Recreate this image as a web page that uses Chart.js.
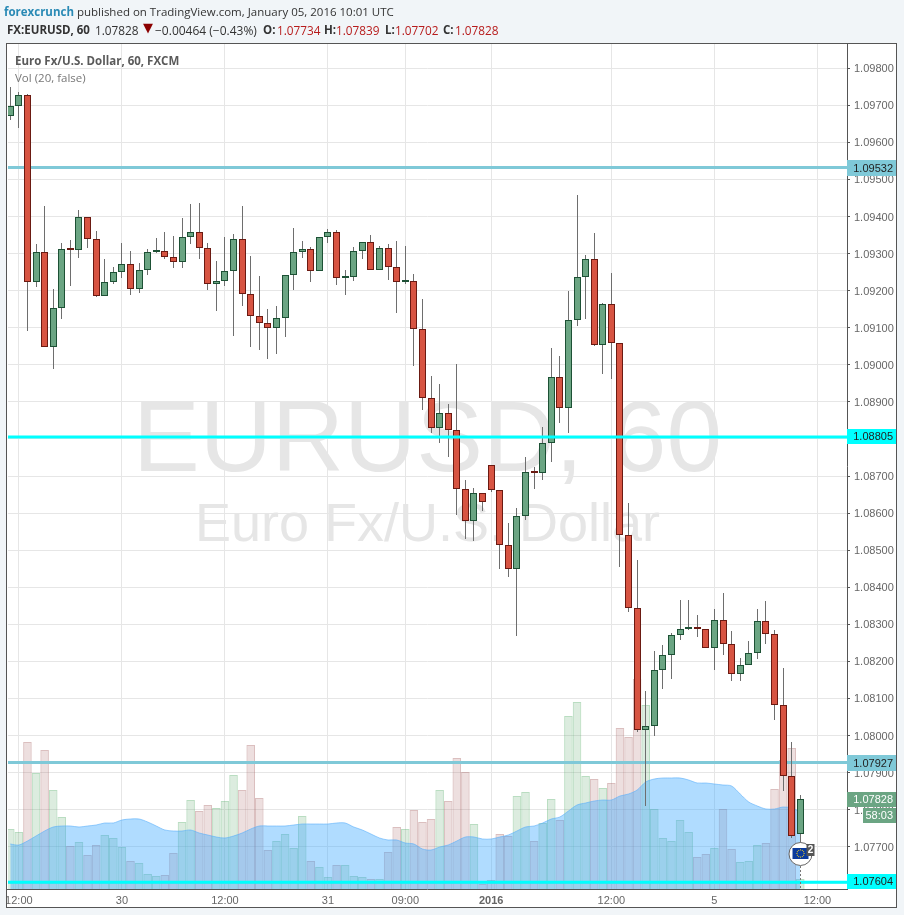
<!DOCTYPE html>
<html>
<head>
<meta charset="utf-8">
<title>EURUSD, 60</title>
<script src="https://cdn.jsdelivr.net/npm/chart.js@4"></script>
<style>
    html, body { margin: 0; padding: 0; background: #f1f5f8; }
    body { position: relative; width: 904px; height: 915px; overflow: hidden; }
    canvas { position: absolute; left: 0; top: 0; }
    .txt { position: absolute; white-space: nowrap; font-family: "Open Sans", sans-serif; font-size: 11.5px; color: #333; }
    .row2 { top: 22px; }
    .row2.num { font-size: 11.8px; }
    .row2.b { font-weight: bold; }
    .author { color: #2a8ab5; font-weight: bold; }
    .val { color: #b71c1c; }
</style>
</head>
<body>
<canvas id="chart" width="904" height="915"></canvas>
<div class="txt" style="left:4px;top:4px"><span class="author">forexcrunch</span> published on TradingView.com, January 05, 2016 10:01 UTC</div>
<div class="txt row2 b" style="left:7px">FX:EURUSD, 60</div>
<div class="txt row2 num" style="left:95px">1.07828</div>
<div class="txt" style="left:143px;top:20px;font-size:13px;color:#8b0000;font-family:'DejaVu Sans'">▼</div>
<div class="txt row2 num" style="left:155px;font-size:12px">−0.00464 (−0.43%)</div>
<div class="txt row2 b" style="left:263px">O:</div>
<div class="txt row2 num val" style="left:277px">1.07734</div>
<div class="txt row2 b" style="left:324px">H:</div>
<div class="txt row2 num val" style="left:336px">1.07839</div>
<div class="txt row2 b" style="left:385px">L:</div>
<div class="txt row2 num val" style="left:395px">1.07702</div>
<div class="txt row2 b" style="left:443px">C:</div>
<div class="txt row2 num val" style="left:455px">1.07828</div>
<div class="txt" style="left:15px;top:53px;font-weight:bold;color:#5a5a5a">Euro Fx/U.S. Dollar, 60, FXCM</div>
<div class="txt" style="left:15px;top:70px;color:#777">Vol (20, false)</div>
<script>
// Hourly candles
const opens = [1.09670,1.09697,1.09727,1.09222,1.09303,1.09049,1.09154,1.09311,1.09310,1.09400,
    1.09338,1.09186,1.09222,1.09251,1.09273,1.09205,1.09257,1.09305,1.09308,1.09292,
    1.09276,1.09346,1.09357,1.09314,1.09219,1.09227,1.09254,1.09338,1.09192,1.09132,
    1.09114,1.09100,1.09127,1.09241,1.09303,1.09311,1.09254,1.09346,1.09359,1.09235,
    1.09236,1.09308,1.09330,1.09257,1.09316,1.09265,1.09222,1.09227,1.09097,1.08911,
    1.08830,1.08870,1.08824,1.08665,1.08578,1.08654,1.08730,1.08662,1.08514,1.08449,
    1.08592,1.08711,1.08708,1.08789,1.08968,1.08883,1.09122,1.09238,1.09286,1.09053,
    1.09165,1.09059,1.08541,1.08345,1.08016,1.08027,1.08176,1.08216,1.08270,1.08287,
    1.08288,1.08286,1.08235,1.08311,1.08246,1.08165,1.08189,1.08222,1.08308,1.08273,
    1.08081,1.07892,1.07734];
const highs = [1.09750,1.09736,1.09731,1.09325,1.09428,1.09205,1.09328,1.09336,1.09417,1.09400,
    1.09360,1.09285,1.09263,1.09328,1.09306,1.09274,1.09312,1.09341,1.09358,1.09347,
    1.09395,1.09433,1.09436,1.09328,1.09279,1.09344,1.09352,1.09428,1.09293,1.09239,
    1.09150,1.09158,1.09241,1.09368,1.09333,1.09317,1.09346,1.09366,1.09363,1.09255,
    1.09317,1.09330,1.09350,1.09320,1.09325,1.09333,1.09320,1.09244,1.09177,1.08971,
    1.08947,1.08893,1.09001,1.08689,1.08668,1.08654,1.08730,1.08662,1.08574,1.08614,
    1.08752,1.08725,1.08831,1.09044,1.09023,1.09198,1.09458,1.09297,1.09355,1.09168,
    1.09247,1.09059,1.08628,1.08474,1.08120,1.08228,1.08244,1.08277,1.08366,1.08366,
    1.08325,1.08286,1.08341,1.08385,1.08282,1.08208,1.08254,1.08341,1.08363,1.08284,
    1.08181,1.07982,1.07839];
const lows = [1.09659,1.09640,1.09091,1.09210,1.09049,1.08988,1.09123,1.09213,1.09288,1.09315,
    1.09183,1.09186,1.09218,1.09234,1.09188,1.09194,1.09241,1.09301,1.09285,1.09260,
    1.09260,1.09325,1.09285,1.09201,1.09145,1.09213,1.09077,1.09158,1.09048,1.09040,
    1.09015,1.09029,1.09075,1.09201,1.09287,1.09223,1.09254,1.09329,1.09214,1.09187,
    1.09226,1.09285,1.09257,1.09257,1.09228,1.09141,1.09219,1.08998,1.08879,1.08817,
    1.08790,1.08750,1.08596,1.08531,1.08525,1.08606,1.08658,1.08450,1.08428,1.08268,
    1.08582,1.08666,1.08690,1.08739,1.08842,1.08815,1.09105,1.09123,1.09050,1.08975,
    1.08963,1.08455,1.08332,1.08010,1.07811,1.07998,1.08126,1.08153,1.08258,1.08284,
    1.08267,1.08235,1.08177,1.08218,1.08148,1.08148,1.08189,1.08207,1.08248,1.08042,
    1.07850,1.07724,1.07702];
const closes = [1.09697,1.09727,1.09222,1.09303,1.09049,1.09154,1.09311,1.09310,1.09400,1.09338,
    1.09186,1.09222,1.09251,1.09273,1.09205,1.09257,1.09305,1.09306,1.09292,1.09276,
    1.09346,1.09357,1.09314,1.09219,1.09227,1.09254,1.09338,1.09192,1.09132,1.09114,
    1.09100,1.09127,1.09241,1.09303,1.09311,1.09254,1.09346,1.09359,1.09235,1.09236,
    1.09308,1.09330,1.09257,1.09316,1.09265,1.09222,1.09227,1.09097,1.08911,1.08830,
    1.08870,1.08824,1.08665,1.08578,1.08654,1.08630,1.08662,1.08514,1.08449,1.08592,
    1.08711,1.08709,1.08789,1.08968,1.08883,1.09122,1.09238,1.09286,1.09053,1.09165,
    1.09059,1.08541,1.08345,1.08016,1.08027,1.08176,1.08216,1.08270,1.08286,1.08288,
    1.08287,1.08235,1.08311,1.08246,1.08165,1.08189,1.08222,1.08308,1.08273,1.08081,
    1.07892,1.07730,1.07828];
const volumes = [60,57,147,116,139,99,72,43,47,34,44,54,51,42,28,26,15,13,14,36,
    67,89,78,84,81,88,114,99,144,91,39,48,55,41,73,28,22,12,24,24,
    13,12,10,10,37,62,60,79,67,70,99,88,131,117,65,5,9,55,53,93,
    97,48,66,90,69,173,187,113,110,101,106,161,152,210,184,80,51,48,69,57,
    32,35,41,80,40,27,28,44,46,100,129,141,10];
const volumeMa = [45,44,48,53,58,62,63,63,62,63,64,66,66,69,70,70,67,63,59,58,
    58,59,56,54,52,51,53,56,60,63,63,63,63,64,65,65,65,65,66,66,
    62,59,55,51,49,49,46,45,40,39,42,44,48,52,52,50,50,52,54,58,
    62,63,66,70,72,78,84,86,88,89,89,93,95,99,107,110,111,111,111,109,
    106,106,105,104,103,95,87,83,80,80,82,81,77];

const xTickIndex = [1, 13, 25, 37, 46, 56, 70, 82, 94];
const xTickText = ['12:00', '30', '12:00', '31', '09:00', '2016', '12:00', '5', '12:00'];

const tealLevels = [1.09532, 1.07927];
const cyanLevels = [1.08805, 1.07604];
const lastPrice = 1.07828;
const countdown = '58:03';

const RED = '#d75442', RED_EDGE = '#6b1a12';
const GREEN = '#6ba583', GREEN_EDGE = '#1d5135';
const TEAL = '#7fc9d8', CYAN = '#00ffff';

const xMin = -0.27, xMax = 97.44;

const indexes = opens.map((_, i) => i);
const isUp = indexes.map(i => closes[i] >= opens[i]);

function levelDataset(value, color, order) {
    return {
        type: 'line',
        data: [{ x: xMin, y: value }, { x: xMax, y: value }],
        borderColor: color,
        borderWidth: 3,
        pointRadius: 0,
        order: order
    };
}

// Snaps the candles to whole pixels, the original chart is crisp
const snapCandles = {
    id: 'snapCandles',
    beforeDatasetsDraw(chart) {
        chart.data.datasets.forEach((ds, n) => {
            if (!ds.snap) return;
            chart.getDatasetMeta(n).data.forEach(el => {
                el.x = Math.floor(el.x) + 0.5;
                el.y = Math.round(el.y);
                el.base = Math.round(el.base);
            });
        });
    }
};

// Page background, white panel and the watermark behind the marks
const background = {
    id: 'background',
    beforeDraw(chart) {
        const { ctx } = chart;
        ctx.save();
        ctx.fillStyle = '#f1f5f8';
        ctx.fillRect(0, 0, chart.width, chart.height);
        ctx.fillStyle = '#ffffff';
        ctx.fillRect(6, 43, 891, 865);
        ctx.restore();
    },
    beforeDatasetsDraw(chart) {
        const { ctx, chartArea } = chart;
        const cx = (chartArea.left + chartArea.right) / 2;
        ctx.save();
        ctx.fillStyle = '#e6e6e6';
        ctx.textAlign = 'center';
        ctx.textBaseline = 'alphabetic';
        ctx.font = '100px "Liberation Sans"';
        ctx.fillText('EURUSD, 60', cx, 471);
        ctx.font = '54px "Liberation Sans"';
        ctx.fillText('Euro Fx/U.S. Dollar', cx, 541);
        ctx.restore();
    }
};

function priceTag(ctx, top, left, right, height, fill, textColor, text) {
    ctx.fillStyle = fill;
    ctx.fillRect(left, top, right - left, height);
    ctx.fillStyle = textColor;
    ctx.fillText(text, right - 4, top + height / 2 + 0.5);
}

// Price tags on the axis, the event marker and the outer frame
const overlay = {
    id: 'overlay',
    afterDraw(chart) {
        const { ctx, chartArea, scales } = chart;
        const yAt = v => scales.y.getPixelForValue(v);
        const right = chartArea.right;
        ctx.save();
        ctx.font = '11px "Liberation Sans"';
        ctx.textAlign = 'right';
        ctx.textBaseline = 'middle';
        tealLevels.forEach(v => priceTag(ctx, Math.round(yAt(v)) - 8, right, 897, 16, TEAL, '#222', v.toFixed(5)));
        cyanLevels.forEach(v => priceTag(ctx, Math.round(yAt(v)) - 8, right, 897, 15, CYAN, '#222', v.toFixed(5)));
        const lastY = Math.round(yAt(lastPrice));
        priceTag(ctx, lastY - 7, right, 897, 15, GREEN, '#fff', lastPrice.toFixed(5));
        priceTag(ctx, lastY + 9, 863, 897, 15, GREEN, '#fff', countdown);

        // event marker on the last candle
        const mx = Math.floor(scales.x.getPixelForValue(opens.length - 1)) + 0.5;
        const my = 854;
        ctx.strokeStyle = '#777';
        ctx.setLineDash([2, 2]);
        ctx.beginPath();
        ctx.moveTo(mx, my + 12);
        ctx.lineTo(mx, chartArea.bottom);
        ctx.stroke();
        ctx.setLineDash([]);
        ctx.fillStyle = '#fff';
        ctx.strokeStyle = '#666';
        ctx.beginPath();
        ctx.arc(mx, my, 11.5, 0, Math.PI * 2);
        ctx.fill();
        ctx.stroke();
        ctx.fillStyle = '#0b3a9c';
        ctx.fillRect(mx - 8, my - 6, 16, 11);
        ctx.fillStyle = '#f4d020';
        for (let a = 0; a < 12; a++) {
            const t = a * Math.PI / 6;
            ctx.fillRect(mx + Math.cos(t) * 3.6 - 0.5, my - 0.5 + Math.sin(t) * 3.6 - 0.5, 1, 1);
        }
        ctx.fillStyle = '#555';
        ctx.fillRect(mx + 6, my - 10, 8, 12);
        ctx.fillStyle = '#fff';
        ctx.textAlign = 'center';
        ctx.font = 'bold 10px "Liberation Sans"';
        ctx.fillText('2', mx + 10, my - 4);

        // the first time label is cut by the frame
        ctx.fillStyle = '#f1f5f8';
        ctx.fillRect(0, 43, 6, 872);
        ctx.strokeStyle = '#555';
        ctx.lineWidth = 1;
        ctx.strokeRect(6.5, 43.5, 890, 864);
        ctx.restore();
    }
};

const datasets = [
    {
        label: 'Vol',
        data: indexes.map(i => ({ x: i, y: volumes[i] })),
        yAxisID: 'vol',
        backgroundColor: isUp.map(u => u ? 'rgba(80,160,95,0.2)' : 'rgba(165,95,95,0.2)'),
        borderColor: isUp.map(u => u ? 'rgba(80,170,100,0.4)' : 'rgba(165,95,95,0.4)'),
        borderWidth: 1,
        barThickness: 8.58,
        inflateAmount: 0,
        grouped: false,
        order: 7
    },
    {
        type: 'line',
        label: 'Vol MA',
        data: indexes.map(i => ({ x: i, y: volumeMa[i] })),
        yAxisID: 'vol',
        fill: 'origin',
        backgroundColor: 'rgba(57,167,255,0.4)',
        borderColor: 'rgba(90,175,250,0.6)',
        borderWidth: 1,
        pointRadius: 0,
        tension: 0.3,
        order: 6
    },
    levelDataset(tealLevels[0], TEAL, 5),
    levelDataset(tealLevels[1], TEAL, 4),
    {
        label: 'Wicks',
        data: indexes.map(i => ({ x: i, y: [lows[i], highs[i]] })),
        backgroundColor: '#6e6e6e',
        borderWidth: 0,
        barThickness: 1,
        inflateAmount: 0,
        grouped: false,
        snap: true,
        order: 3
    },
    {
        label: 'Bodies',
        data: indexes.map(i => ({ x: i, y: [opens[i], closes[i]] })),
        backgroundColor: isUp.map(u => u ? GREEN : RED),
        borderColor: isUp.map(u => u ? GREEN_EDGE : RED_EDGE),
        borderWidth: 1,
        borderSkipped: false,
        barThickness: 7,
        inflateAmount: 0,
        minBarLength: 2,
        grouped: false,
        snap: true,
        order: 2
    },
    levelDataset(cyanLevels[0], CYAN, 1),
    levelDataset(cyanLevels[1], CYAN, 0)
];

new Chart(document.getElementById('chart').getContext('2d'), {
    type: 'bar',
    data: { datasets: datasets },
    plugins: [background, snapCandles, overlay],
    options: {
        responsive: false,
        animation: false,
        layout: { padding: { left: 7, top: 43, right: 7, bottom: 7 } },
        plugins: { legend: { display: false }, tooltip: { enabled: false } },
        scales: {
            x: {
                type: 'linear',
                min: xMin,
                max: xMax,
                offset: false,
                grid: { offset: false, color: '#e6e6e6', drawTicks: false },
                border: { display: true, color: '#555' },
                afterBuildTicks(scale) {
                    scale.ticks = xTickIndex.map(v => ({ value: v }));
                },
                afterFit(scale) { scale.height = 19; },
                ticks: {
                    autoSkip: false,
                    maxRotation: 0,
                    padding: 5,
                    color: '#666',
                    font: ctx => ({
                        family: '"Liberation Sans"',
                        size: 11,
                        weight: ctx.tick && xTickText[xTickIndex.indexOf(ctx.tick.value)] === '2016' ? 'bold' : 'normal'
                    }),
                    callback: value => xTickText[xTickIndex.indexOf(value)]
                }
            },
            y: {
                position: 'right',
                min: 1.07586,
                max: 1.09868,
                grid: { color: '#e6e6e6', tickColor: '#555', tickLength: 3 },
                border: { display: true, color: '#555' },
                afterFit(scale) { scale.width = 50; },
                ticks: {
                    stepSize: 0.001,
                    includeBounds: false,
                    padding: 4,
                    labelOffset: 1,
                    color: '#666',
                    font: { family: '"Liberation Sans"', size: 11 },
                    callback: value => value.toFixed(5)
                }
            },
            vol: { display: false, min: 0, max: 846 }
        }
    }
});
</script>
</body>
</html>
